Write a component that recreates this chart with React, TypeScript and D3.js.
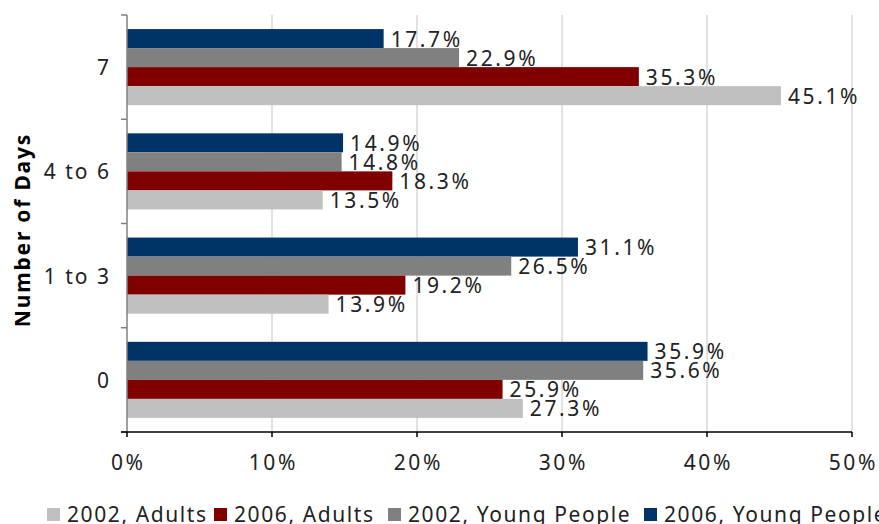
import React from "react";
import * as d3 from "d3";

const categories = ["7", "4 to 6", "1 to 3", "0"];
const seriesNames = ["2006, Young People", "2002, Young People", "2006, Adults", "2002, Adults"];
const legendOrder = ["2002, Adults", "2006, Adults", "2002, Young People", "2006, Young People"];
const colors: Record<string, string> = {
  "2002, Adults": "#c0c0c0",
  "2006, Adults": "#800000",
  "2002, Young People": "#808080",
  "2006, Young People": "#003366",
};
const adults2002 = [45.1, 13.5, 13.9, 27.3];
const adults2006 = [35.3, 18.3, 19.2, 25.9];
const young2002 = [22.9, 14.8, 26.5, 35.6];
const young2006 = [17.7, 14.9, 31.1, 35.9];
const xTicks = [0, 10, 20, 30, 40, 50];

const values: Record<string, number[]> = {
  "2002, Adults": adults2002,
  "2006, Adults": adults2006,
  "2002, Young People": young2002,
  "2006, Young People": young2006,
};

const W = 879;
const H = 524;
const left = 127;
const right = 852;
const top = 15;
const bottom = 432;
const FONT = "'Noto Sans', sans-serif";
const TXT = "#222";

export default function App() {
  const x = d3.scaleLinear().domain([0, 50]).range([left, right]);
  const y = d3.scaleBand<string>().domain(categories).range([top, bottom]).padding(0);
  const inner = d3
    .scaleBand<string>()
    .domain(seriesNames)
    .range([0, y.bandwidth()])
    .paddingInner(0)
    .paddingOuter(0.74);
  const edges = [...categories.map((c) => y(c)!), bottom];

  return (
    <svg width={W} height={H} style={{ position: "absolute", left: 0, top: 0, overflow: "hidden" }}>
      <rect width={W} height={H} fill="#fff" />
      {xTicks.slice(1).map((t) => (
        <line key={"g" + t} x1={x(t)} x2={x(t)} y1={top} y2={bottom} stroke="#d9d9d9" strokeWidth={1.5} />
      ))}
      {categories.map((c, ci) =>
        seriesNames.map((s) => {
          const v = values[s][ci];
          const by = y(c)! + inner(s)!;
          return (
            <g key={c + s}>
              <rect x={x(0)} y={by} width={x(v) - x(0)} height={inner.bandwidth()} fill={colors[s]} />
              <text
                x={x(v) + 7}
                y={by + inner.bandwidth() / 2}
                dominantBaseline="central"
                fontFamily={FONT}
                fontSize={21}
                fill={TXT}
                letterSpacing={2.6}
              >
                {v.toFixed(1)}%
              </text>
            </g>
          );
        })
      )}
      <line x1={left} x2={left} y1={top} y2={bottom} stroke="#808080" strokeWidth={1.5} />
      {edges.map((e, i) => (
        <line key={"yt" + i} x1={121} x2={left} y1={e} y2={e} stroke="#808080" strokeWidth={1.5} />
      ))}
      <line x1={121} x2={right} y1={bottom} y2={bottom} stroke="#000" strokeWidth={1.5} />
      {xTicks.map((t) => (
        <g key={"xt" + t}>
          <line x1={x(t)} x2={x(t)} y1={bottom} y2={bottom + 5} stroke="#000" strokeWidth={1.5} />
          <text
            x={x(t) + 1.3}
            y={462}
            textAnchor="middle"
            dominantBaseline="central"
            fontFamily={FONT}
            fontSize={21}
            fill={TXT}
            letterSpacing={2.6}
          >
            {t}%
          </text>
        </g>
      ))}
      {categories.map((c) => (
        <text
          key={"cl" + c}
          x={111}
          y={y(c)! + y.bandwidth() / 2}
          textAnchor="end"
          dominantBaseline="central"
          fontFamily={FONT}
          fontSize={21}
          fill={TXT}
          letterSpacing={2}
        >
          {c}
        </text>
      ))}
      <text
        transform={`translate(22,230) rotate(-90)`}
        textAnchor="middle"
        dominantBaseline="central"
        fontFamily={FONT}
        fontSize={21}
        fontWeight="bold"
        fill="#000"
        letterSpacing={1.8}
      >
        Number of Days
      </text>
      {(() => {
        const starts = [47, 214, 388, 644];
        return legendOrder.map((s, i) => (
          <g key={"lg" + s}>
            <rect x={starts[i]} y={508} width={13} height={13} fill={colors[s]} />
            <text
              x={starts[i] + 20}
              y={514}
              dominantBaseline="central"
              fontFamily={FONT}
              fontSize={21}
              fill={TXT}
              letterSpacing={1.6}
            >
              {s}
            </text>
          </g>
        ));
      })()}
    </svg>
  );
}
